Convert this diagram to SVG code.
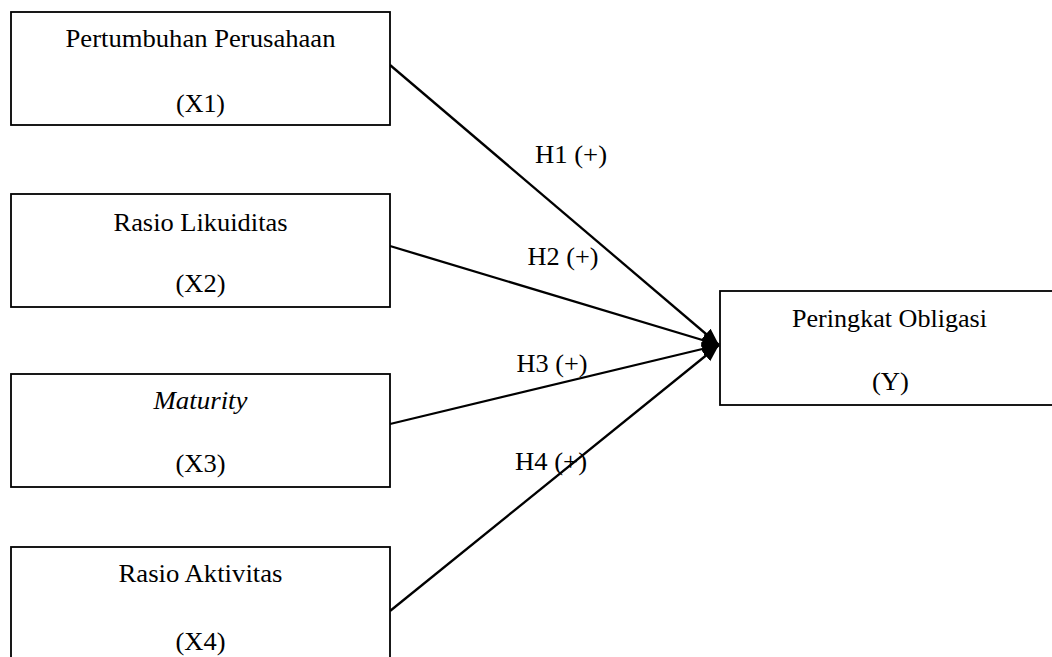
<svg xmlns="http://www.w3.org/2000/svg" width="1052" height="657" viewBox="0 0 1052 657">
<defs>
<style>
.box{fill:#fff;stroke:#000;stroke-width:1.8}
.t{font-family:"Liberation Serif","Times New Roman",serif;font-size:24.5px;fill:#000;text-anchor:middle}
.i{font-style:italic}
.c{stroke:#000;stroke-width:2.3;fill:none}
</style>
<marker id="ah" markerUnits="userSpaceOnUse" markerWidth="20" markerHeight="16" refX="17" refY="7" orient="auto" viewBox="0 0 20 14">
<path d="M0,0 L17,7 L0,14 Z" fill="#000"/>
</marker>
</defs>
<rect width="1052" height="657" fill="#fff"/>
<g id="connectors">
<line class="c" x1="390" y1="65" x2="719" y2="345" marker-end="url(#ah)"/>
<line class="c" x1="390" y1="246" x2="719" y2="345" marker-end="url(#ah)"/>
<line class="c" x1="390" y1="424" x2="719" y2="345" marker-end="url(#ah)"/>
<line class="c" x1="390" y1="611" x2="719" y2="345" marker-end="url(#ah)"/>
<text class="t" x="571" y="163" textLength="72" lengthAdjust="spacingAndGlyphs">H1 (+)</text>
<text class="t" x="563" y="265" textLength="71" lengthAdjust="spacingAndGlyphs">H2 (+)</text>
<text class="t" x="552" y="372" textLength="71" lengthAdjust="spacingAndGlyphs">H3 (+)</text>
<text class="t" x="551" y="470" textLength="72" lengthAdjust="spacingAndGlyphs">H4 (+)</text>
</g>
<g id="x1">
<rect class="box" x="11" y="12" width="379" height="113"/>
<text class="t" x="200.5" y="47" textLength="270" lengthAdjust="spacingAndGlyphs">Pertumbuhan Perusahaan</text>
<text class="t" x="200.5" y="112" textLength="49" lengthAdjust="spacingAndGlyphs">(X1)</text>
</g>
<g id="x2">
<rect class="box" x="11" y="194" width="379" height="113"/>
<text class="t" x="200.5" y="231" textLength="174" lengthAdjust="spacingAndGlyphs">Rasio Likuiditas</text>
<text class="t" x="200.5" y="292" textLength="50" lengthAdjust="spacingAndGlyphs">(X2)</text>
</g>
<g id="x3">
<rect class="box" x="11" y="374" width="379" height="113"/>
<text class="t i" x="200.5" y="409" textLength="94" lengthAdjust="spacingAndGlyphs">Maturity</text>
<text class="t" x="200.5" y="472" textLength="50" lengthAdjust="spacingAndGlyphs">(X3)</text>
</g>
<g id="x4">
<rect class="box" x="11" y="547" width="379" height="120"/>
<text class="t" x="200.5" y="582" textLength="164" lengthAdjust="spacingAndGlyphs">Rasio Aktivitas</text>
<text class="t" x="200.5" y="650" textLength="50" lengthAdjust="spacingAndGlyphs">(X4)</text>
</g>
<g id="y">
<rect class="box" x="720" y="291" width="340" height="114"/>
<text class="t" x="889.5" y="327" textLength="195" lengthAdjust="spacingAndGlyphs">Peringkat Obligasi</text>
<text class="t" x="890.5" y="390" textLength="37" lengthAdjust="spacingAndGlyphs">(Y)</text>
</g>
</svg>
